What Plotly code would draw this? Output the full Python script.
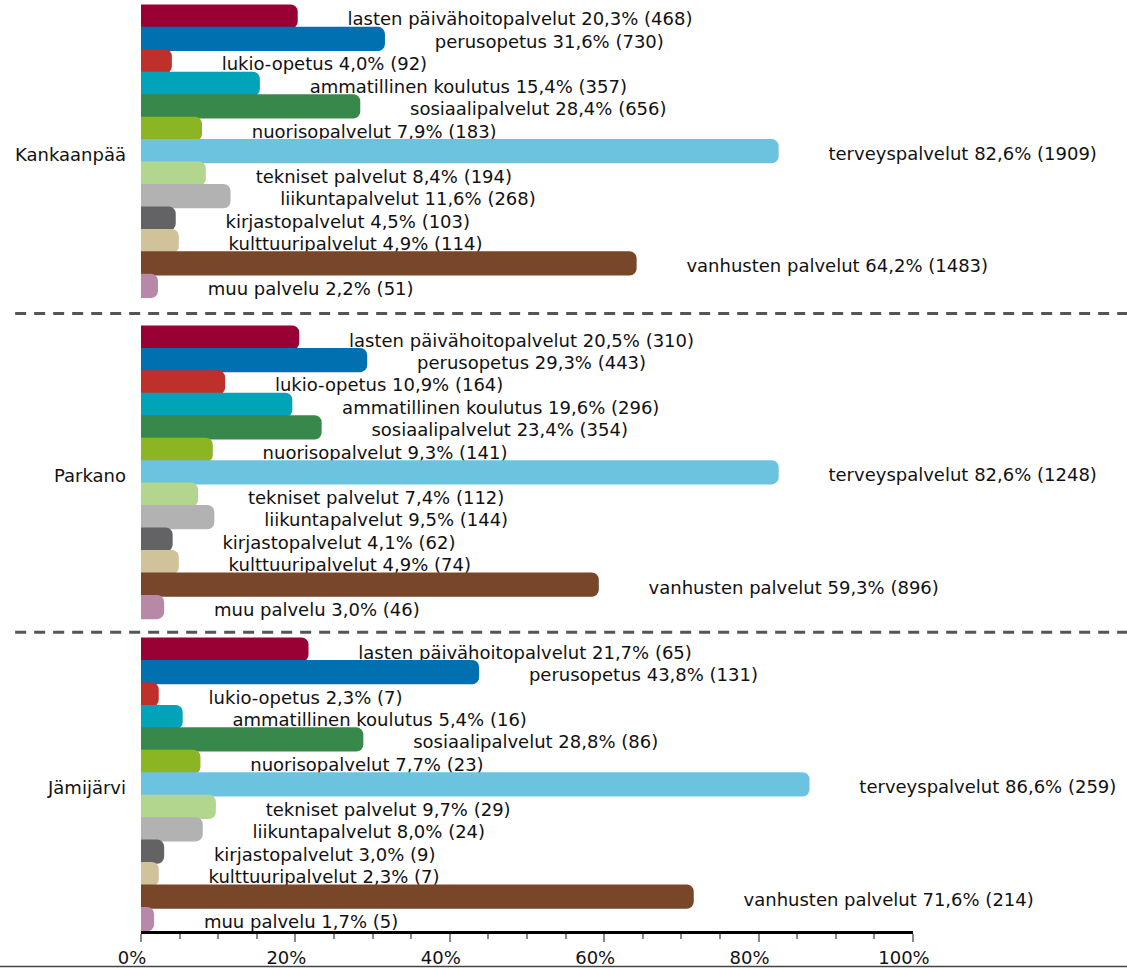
import plotly.graph_objects as go

# ---------------- data ----------------
groups = ["Kankaanpää", "Parkano", "Jämijärvi"]
services = [
    "lasten päivähoitopalvelut", "perusopetus", "lukio-opetus",
    "ammatillinen koulutus", "sosiaalipalvelut", "nuorisopalvelut",
    "terveyspalvelut", "tekniset palvelut", "liikuntapalvelut",
    "kirjastopalvelut", "kulttuuripalvelut", "vanhusten palvelut", "muu palvelu",
]
pct_kankaanpaa = [20.3, 31.6, 4.0, 15.4, 28.4, 7.9, 82.6, 8.4, 11.6, 4.5, 4.9, 64.2, 2.2]
n_kankaanpaa = [468, 730, 92, 357, 656, 183, 1909, 194, 268, 103, 114, 1483, 51]
pct_parkano = [20.5, 29.3, 10.9, 19.6, 23.4, 9.3, 82.6, 7.4, 9.5, 4.1, 4.9, 59.3, 3.0]
n_parkano = [310, 443, 164, 296, 354, 141, 1248, 112, 144, 62, 74, 896, 46]
pct_jamijarvi = [21.7, 43.8, 2.3, 5.4, 28.8, 7.7, 86.6, 9.7, 8.0, 3.0, 2.3, 71.6, 1.7]
n_jamijarvi = [65, 131, 7, 16, 86, 23, 259, 29, 24, 9, 7, 214, 5]
x_ticks = [0, 20, 40, 60, 80, 100]
x_tick_labels = ["0%", "20%", "40%", "60%", "80%", "100%"]

# ---------------- style / layout constants ----------------
colors = ["#990033", "#0070B0", "#C0302A", "#00A3B7", "#38884C", "#8CB523",
          "#6CC3DF", "#B3D68F", "#B2B2B2", "#636366", "#D0C39A", "#784628", "#B888A8"]
FONT = "DejaVu Sans"
GROUP_START = [0.0, 14.3, 28.2]      # row offset of each group (row units)
SEPARATORS = [13.23, 27.42]
Y_RANGE = [40.73, -0.735]
TEXT_GAP = 6.45                      # label gap after bar end (% units)
TEXT_DY = 0.2
BAR_W = 1.08

pcts = [pct_kankaanpaa, pct_parkano, pct_jamijarvi]
counts = [n_kankaanpaa, n_parkano, n_jamijarvi]


def fmt(name, p, n):
    return f"{name} {p:.1f}".replace(".", ",") + f"% ({n})"


fig = go.Figure()

# labels first (underneath the bars, on the base subplot)
tx, ty, tt = [], [], []
for g in range(len(groups)):
    for i, s in enumerate(services):
        tx.append(pcts[g][i] + TEXT_GAP)
        ty.append(GROUP_START[g] + i + TEXT_DY)
        tt.append(fmt(s, pcts[g][i], counts[g][i]))
fig.add_trace(go.Scatter(
    x=tx, y=ty, text=tt, mode="text", textposition="middle right",
    textfont=dict(family=FONT, size=18, color="#111111"),
    cliponaxis=False, showlegend=False, hoverinfo="skip",
    xaxis="x", yaxis="y",
))

# bars, one trace per service, on the overlaying subplot (drawn above labels)
for i, s in enumerate(services):
    fig.add_trace(go.Bar(
        orientation="h",
        x=[pcts[g][i] for g in range(len(groups))],
        y=[GROUP_START[g] + i for g in range(len(groups))],
        width=BAR_W,
        marker=dict(color=colors[i], line=dict(width=0)),
        name=s, showlegend=False,
        xaxis="x2", yaxis="y2",
    ))

group_centers = [GROUP_START[g] + (len(services) - 1) / 2 + 0.15 for g in range(len(groups))]

shapes = []
for yv in SEPARATORS:
    shapes.append(dict(type="line", xref="paper", yref="y",
                       x0=-0.163, x1=1.28, y0=yv, y1=yv,
                       line=dict(color="#555555", width=3, dash="11px,8px")))
shapes.append(dict(type="line", xref="paper", yref="paper",
                   x0=-0.19, x1=1.28, y0=-0.0381, y1=-0.0381,
                   line=dict(color="#444444", width=1.5)))

fig.update_layout(
    width=1127, height=968,
    margin=dict(l=141, r=214, t=0, b=37),
    paper_bgcolor="white", plot_bgcolor="white",
    barmode="overlay", barcornerradius=7,
    font=dict(family=FONT, size=18, color="#111111"),
    showlegend=False,
    xaxis=dict(
        range=[0, 100], showgrid=False, zeroline=False,
        showline=True, linecolor="black", linewidth=3,
        tickmode="array", tickvals=x_ticks, ticktext=x_tick_labels,
        ticks="outside", ticklen=8, tickwidth=1.5, tickcolor="#888888",
        ticklabelshift=-9,
        minor=dict(dtick=5, ticks="outside", ticklen=5, tickwidth=1.5, tickcolor="#888888"),
        tickfont=dict(family=FONT, size=18, color="#111111"),
    ),
    yaxis=dict(
        range=Y_RANGE, showgrid=False, zeroline=False, showline=False,
        tickvals=group_centers, ticktext=groups, ticks="",
        ticklabelstandoff=14,
        tickfont=dict(family=FONT, size=18, color="#111111"),
    ),
    xaxis2=dict(range=[0, 100], overlaying="x", visible=False),
    yaxis2=dict(range=Y_RANGE, overlaying="y", visible=False),
    shapes=shapes,
)

fig.write_html("out.html", config={"displayModeBar": False},
               post_script="document.body.style.margin='0';")
